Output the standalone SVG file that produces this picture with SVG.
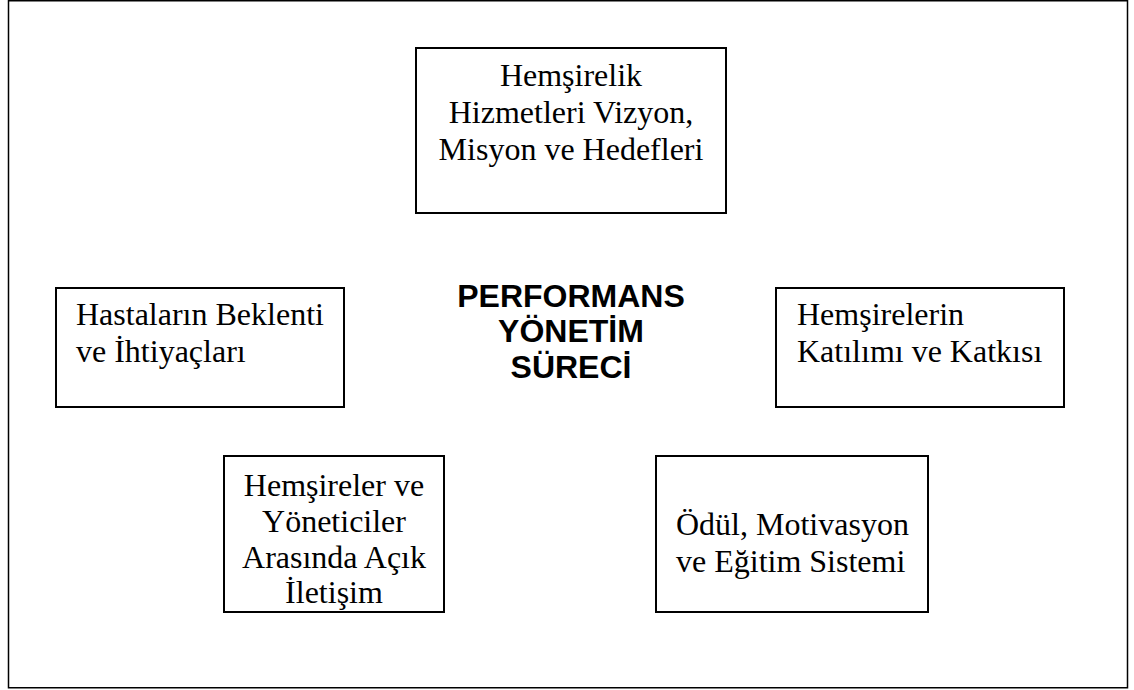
<svg xmlns="http://www.w3.org/2000/svg" width="1134" height="690" viewBox="0 0 1134 690">
<style>
.box{fill:#ffffff;stroke:#000000;stroke-width:2}
.frame{fill:#ffffff;stroke:#000000;stroke-width:1.5}
.t{font-family:"Liberation Serif","Times New Roman",serif;font-size:32px;fill:#000000}
.c{text-anchor:middle}
.b{font-family:"Liberation Sans",Arial,sans-serif;font-size:32px;font-weight:bold;fill:#000000;text-anchor:middle}
</style>
<rect class="frame" x="8.5" y="0.75" width="1119" height="687"/>
<g id="connectors"></g>
<g id="node-vizyon">
<rect class="box" x="416" y="48" width="310" height="165"/>
<text class="t c" x="571" y="86">Hemşirelik</text>
<text class="t c" x="571" y="123">Hizmetleri Vizyon,</text>
<text class="t c" x="571" y="160">Misyon ve Hedefleri</text>
</g>
<g id="node-center">
<text class="b" x="571" y="307">PERFORMANS</text>
<text class="b" x="571" y="342">YÖNETİM</text>
<text class="b" x="571" y="378">SÜRECİ</text>
</g>
<g id="node-hastalar">
<rect class="box" x="56" y="288" width="288" height="119"/>
<text class="t" x="76" y="325">Hastaların Beklenti</text>
<text class="t" x="76" y="362">ve İhtiyaçları</text>
</g>
<g id="node-katilim">
<rect class="box" x="776" y="288" width="288" height="119"/>
<text class="t" x="797" y="325">Hemşirelerin</text>
<text class="t" x="797" y="362">Katılımı ve Katkısı</text>
</g>
<g id="node-iletisim">
<rect class="box" x="224" y="456" width="220" height="156"/>
<text class="t c" x="334" y="496">Hemşireler ve</text>
<text class="t c" x="334" y="532">Yöneticiler</text>
<text class="t c" x="334" y="568">Arasında Açık</text>
<text class="t c" x="334" y="603">İletişim</text>
</g>
<g id="node-odul">
<rect class="box" x="656" y="456" width="272" height="156"/>
<text class="t" x="676" y="535">Ödül, Motivasyon</text>
<text class="t" x="676" y="572">ve Eğitim Sistemi</text>
</g>
</svg>
